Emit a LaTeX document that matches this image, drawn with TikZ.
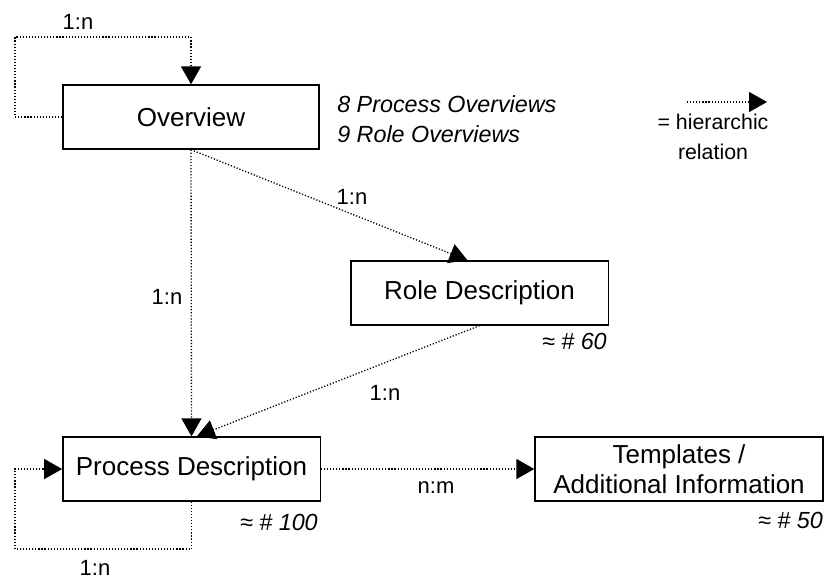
\documentclass[tikz,border=0pt]{standalone}
\usepackage{fontspec}
\setmainfont{Liberation Sans}
\usetikzlibrary{arrows.meta}

\tikzset{
  docbox/.style={draw, line width=1pt, inner sep=0pt, align=center,
    font=\fontsize{19.5}{22.5}\selectfont},
  hier/.style={line width=1pt, dash pattern=on 0.9pt off 1.4pt,
    -{Triangle[length=13.5pt,width=15pt]}},
  card/.style={inner sep=0pt, font=\fontsize{16.5}{19}\selectfont},
  count/.style={inner sep=0pt, font=\fontsize{17.5}{20}\selectfont\itshape}
}

\begin{document}
\begin{tikzpicture}[x=0.75pt,y=0.75pt,yscale=-1,xscale=1]
\useasboundingbox (0,0) rectangle (827,579);

%Boxes
\node (ov) at (191,117) [docbox, minimum width=192pt, minimum height=48pt] {Overview};
\node (role) at (479.5,293) [docbox, minimum width=193pt, minimum height=48pt] {Role Description};
\node (proc) at (191.5,469) [docbox, minimum width=193pt, minimum height=48pt] {Process Description};
\node (tmpl) at (679,469) [docbox, minimum width=216pt, minimum height=48pt] {Templates /\\Additional Information};

%Loop points
\coordinate (ovloop) at (15,37);
\coordinate (procloop) at (15,549);

%Relations
\draw [hier] (ov.west) -| (ovloop) -| (ov.north);
\draw [hier] (ov.south) -- (proc.north);
\draw [hier] (ov.south) -- ([xshift=-9pt]role.north);
\draw [hier] (role.south) -- ([xshift=4pt]proc.north);
\draw [hier] (proc.east) -- (tmpl.west);
\draw [hier] (proc.south) |- (procloop) |- (proc.west);

% Text Node
\node (cardtop) at (78,22) [card] {1:n};
% Text Node
\node (cardov) at (167,297) [card] {1:n};
% Text Node
\node (cardrole) at (352,197) [card] {1:n};
% Text Node
\node (cardproc) at (385,393) [card] {1:n};
% Text Node
\node (cardtmpl) at (436,488) [card] {n:m};
% Text Node
\node (cardloop) at (95,568) [card] {1:n};

% Text Node
\node (ovcountA) at (337,112) [count, anchor=base west] {8 Process Overviews};
% Text Node
\node (ovcountB) at (337,142) [count, anchor=base west] {9 Role Overviews};
% Text Node
\node (rolecount) at (607,341) [count, anchor=east] {≈ \# 60};
% Text Node
\node (proccount) at (318,522) [count, anchor=east] {≈ \# 100};
% Text Node
\node (tmplcount) at (823,520) [count, anchor=east] {≈ \# 50};

%Legend
\coordinate (legA) at (687,102);
\coordinate (legB) at (767,102);
\draw [hier] (legA) -- (legB);
\node (legtext) at (713,137) [card, align=center, font=\fontsize{16}{23}\selectfont] {= hierarchic\\relation};

\end{tikzpicture}
\end{document}
